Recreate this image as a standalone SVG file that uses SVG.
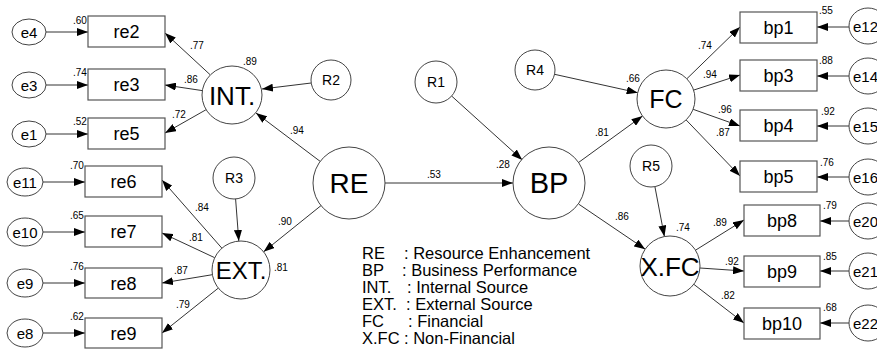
<svg xmlns="http://www.w3.org/2000/svg" width="877" height="351" viewBox="0 0 877 351">
<style>
text{font-family:"Liberation Sans",Arial,sans-serif;fill:#000}
.c{fill:#fff;stroke:#444;stroke-width:1}
.b{fill:#fff;stroke:#555;stroke-width:1.2}
.lat{font-size:27px;text-anchor:middle}
.box{font-size:18px;text-anchor:middle}
.err{font-size:15px;text-anchor:middle}
.rr{font-size:14px;text-anchor:middle}
.n{font-size:10px}
.leg{font-size:16.5px}
.ln{stroke:#333;stroke-width:1;fill:none;marker-end:url(#ah)}
</style>
<defs>
<marker id="ah" markerUnits="userSpaceOnUse" markerWidth="11" markerHeight="8" refX="11" refY="4" orient="auto">
<path d="M0,0 L11,4 L0,8 z" fill="#000"/>
</marker>
</defs>
<rect width="877" height="351" fill="#fff"/>

<g id="connectors">
<line class="ln" x1="46" y1="32" x2="88" y2="32"/>
<line class="ln" x1="46" y1="85" x2="88" y2="85"/>
<line class="ln" x1="46" y1="134" x2="88" y2="134"/>
<line class="ln" x1="43" y1="182" x2="85" y2="182"/>
<line class="ln" x1="43" y1="232" x2="85" y2="232"/>
<line class="ln" x1="43" y1="283" x2="85" y2="283"/>
<line class="ln" x1="43" y1="333" x2="85" y2="333"/>
<line class="ln" x1="210" y1="74.6" x2="165" y2="33"/>
<line class="ln" x1="202.3" y1="90.6" x2="165" y2="85"/>
<line class="ln" x1="205.9" y1="109.8" x2="165" y2="133"/>
<line class="ln" x1="311.2" y1="83" x2="262" y2="89"/>
<line class="ln" x1="320.2" y1="161.4" x2="256" y2="113"/>
<line class="ln" x1="321" y1="205.6" x2="263.6" y2="251.8"/>
<line class="ln" x1="235.6" y1="199" x2="238.8" y2="241"/>
<line class="ln" x1="221.9" y1="248.2" x2="162" y2="180"/>
<line class="ln" x1="214.7" y1="257.7" x2="162" y2="233"/>
<line class="ln" x1="212.4" y1="274.7" x2="162" y2="283"/>
<line class="ln" x1="218.3" y1="288.1" x2="162" y2="333"/>
<line class="ln" x1="385" y1="183" x2="513" y2="183"/>
<line class="ln" x1="451.6" y1="96" x2="522.3" y2="159.9"/>
<line class="ln" x1="578.1" y1="162.8" x2="642.5" y2="116"/>
<line class="ln" x1="578.8" y1="204.2" x2="645.2" y2="249.2"/>
<line class="ln" x1="554.5" y1="74.3" x2="637.7" y2="92.7"/>
<line class="ln" x1="654.9" y1="186.6" x2="664.4" y2="236.5"/>
<line class="ln" x1="686.8" y1="78.8" x2="740" y2="27"/>
<line class="ln" x1="693.6" y1="90.1" x2="740" y2="75"/>
<line class="ln" x1="693.1" y1="109.3" x2="740" y2="126"/>
<line class="ln" x1="686.1" y1="119.9" x2="740" y2="176"/>
<line class="ln" x1="695.5" y1="250.2" x2="744" y2="220"/>
<line class="ln" x1="700" y1="268" x2="744" y2="271"/>
<line class="ln" x1="693.8" y1="284.3" x2="744" y2="323"/>
<line class="ln" x1="849" y1="27" x2="817" y2="27"/>
<line class="ln" x1="849" y1="76" x2="817" y2="76"/>
<line class="ln" x1="849" y1="126" x2="817" y2="126"/>
<line class="ln" x1="849" y1="177" x2="817" y2="177"/>
<line class="ln" x1="849" y1="221" x2="820" y2="221"/>
<line class="ln" x1="849" y1="271" x2="820" y2="271"/>
<line class="ln" x1="849" y1="323" x2="820" y2="323"/>
</g>

<g id="coef" class="n">
<text x="190" y="49">.77</text>
<text x="184" y="83">.86</text>
<text x="172" y="118">.72</text>
<text x="243" y="65">.89</text>
<text x="290" y="134">.94</text>
<text x="278" y="225">.90</text>
<text x="274" y="271">.81</text>
<text x="195" y="211">.84</text>
<text x="189" y="241">.81</text>
<text x="174" y="274">.87</text>
<text x="176" y="308">.79</text>
<text x="427" y="178">.53</text>
<text x="496" y="168">.28</text>
<text x="595" y="136">.81</text>
<text x="626" y="82">.66</text>
<text x="615" y="220">.86</text>
<text x="676" y="231">.74</text>
<text x="698" y="49">.74</text>
<text x="703" y="78">.94</text>
<text x="718" y="113">.96</text>
<text x="716" y="136">.87</text>
<text x="713" y="226">.89</text>
<text x="725" y="265">.92</text>
<text x="721" y="299">.82</text>
</g>

<g id="e4"><ellipse class="c" cx="29" cy="32" rx="17" ry="13"/><text class="err" x="29" y="37.5">e4</text></g>
<g id="e3"><ellipse class="c" cx="29" cy="85" rx="17" ry="13"/><text class="err" x="29" y="90.5">e3</text></g>
<g id="e1"><ellipse class="c" cx="29" cy="134" rx="17" ry="13"/><text class="err" x="29" y="139.5">e1</text></g>
<g id="e11"><ellipse class="c" cx="25" cy="182" rx="18" ry="14"/><text class="err" x="25" y="187.5">e11</text></g>
<g id="e10"><ellipse class="c" cx="25" cy="232" rx="18" ry="14"/><text class="err" x="25" y="237.5">e10</text></g>
<g id="e9"><ellipse class="c" cx="25" cy="283" rx="18" ry="14"/><text class="err" x="25" y="288.5">e9</text></g>
<g id="e8"><ellipse class="c" cx="25" cy="333" rx="18" ry="14"/><text class="err" x="25" y="338.5">e8</text></g>

<g id="re2"><rect class="b" x="88" y="16" width="77" height="31"/><text class="box" x="126.5" y="38">re2</text><text class="n" x="73" y="24">.60</text></g>
<g id="re3"><rect class="b" x="88" y="69" width="77" height="31"/><text class="box" x="126.5" y="91">re3</text><text class="n" x="73" y="76">.74</text></g>
<g id="re5"><rect class="b" x="88" y="118" width="77" height="31"/><text class="box" x="126.5" y="140">re5</text><text class="n" x="73" y="125">.52</text></g>
<g id="re6"><rect class="b" x="85" y="166" width="77" height="31"/><text class="box" x="123.5" y="188">re6</text><text class="n" x="70" y="169">.70</text></g>
<g id="re7"><rect class="b" x="85" y="216" width="77" height="31"/><text class="box" x="123.5" y="238">re7</text><text class="n" x="70" y="219">.65</text></g>
<g id="re8"><rect class="b" x="85" y="268" width="77" height="30"/><text class="box" x="123.5" y="289.5">re8</text><text class="n" x="70" y="270">.76</text></g>
<g id="re9"><rect class="b" x="85" y="318" width="77" height="30"/><text class="box" x="123.5" y="339.5">re9</text><text class="n" x="70" y="320">.62</text></g>

<g id="INT"><ellipse class="c" cx="232" cy="95" rx="30" ry="29"/><text class="lat" x="232" y="104.5" style="font-size:26px">INT.</text></g>
<g id="R2"><circle class="c" cx="331" cy="80" r="20"/><text class="rr" x="331" y="85">R2</text></g>
<g id="EXT"><circle class="c" cx="241" cy="270" r="29"/><text class="lat" x="241" y="279" style="font-size:24px">EXT.</text></g>
<g id="R3"><circle class="c" cx="234" cy="178" r="21"/><text class="rr" x="234" y="183">R3</text></g>
<g id="RE"><circle class="c" cx="349" cy="183" r="36"/><text class="lat" x="349" y="193" style="font-size:28px">RE</text></g>
<g id="BP"><circle class="c" cx="549" cy="183" r="36"/><text class="lat" x="549" y="193" style="font-size:29px">BP</text></g>
<g id="R1"><circle class="c" cx="436" cy="82" r="21"/><text class="rr" x="436" y="87">R1</text></g>
<g id="R4"><circle class="c" cx="535" cy="70" r="20"/><text class="rr" x="535" y="75">R4</text></g>
<g id="FC"><circle class="c" cx="666" cy="99" r="29"/><text class="lat" x="666" y="108" style="font-size:25px">FC</text></g>
<g id="R5"><circle class="c" cx="651" cy="166" r="21"/><text class="rr" x="651" y="171">R5</text></g>
<g id="XFC"><circle class="c" cx="670" cy="266" r="30"/><text class="lat" x="670" y="275.5" style="font-size:26px">X.FC</text></g>

<g id="bp1"><rect class="b" x="740" y="12" width="77" height="31"/><text class="box" x="778.5" y="34">bp1</text><text class="n" x="819" y="14">.55</text></g>
<g id="bp3"><rect class="b" x="740" y="60" width="77" height="31"/><text class="box" x="778.5" y="82">bp3</text><text class="n" x="819" y="64">.88</text></g>
<g id="bp4"><rect class="b" x="740" y="110" width="77" height="31"/><text class="box" x="778.5" y="132">bp4</text><text class="n" x="821" y="115">.92</text></g>
<g id="bp5"><rect class="b" x="740" y="161" width="77" height="31"/><text class="box" x="778.5" y="183">bp5</text><text class="n" x="820" y="166">.76</text></g>
<g id="bp8"><rect class="b" x="744" y="205" width="76" height="31"/><text class="box" x="782" y="227">bp8</text><text class="n" x="823" y="209">.79</text></g>
<g id="bp9"><rect class="b" x="744" y="256" width="76" height="31"/><text class="box" x="782" y="278">bp9</text><text class="n" x="823" y="260">.85</text></g>
<g id="bp10"><rect class="b" x="744" y="308" width="76" height="31"/><text class="box" x="782" y="330">bp10</text><text class="n" x="823" y="311">.68</text></g>

<g id="e12"><ellipse class="c" cx="868" cy="26" rx="19" ry="18"/><text class="err" x="853" y="31.5" style="text-anchor:start">e12</text></g>
<g id="e14"><ellipse class="c" cx="868" cy="76" rx="19" ry="18"/><text class="err" x="853" y="81.5" style="text-anchor:start">e14</text></g>
<g id="e15"><ellipse class="c" cx="868" cy="126" rx="19" ry="18"/><text class="err" x="853" y="131.5" style="text-anchor:start">e15</text></g>
<g id="e16"><ellipse class="c" cx="868" cy="177" rx="19" ry="18"/><text class="err" x="853" y="182.5" style="text-anchor:start">e16</text></g>
<g id="e20"><ellipse class="c" cx="868" cy="221" rx="19" ry="18"/><text class="err" x="853" y="226.5" style="text-anchor:start">e20</text></g>
<g id="e21"><ellipse class="c" cx="868" cy="271" rx="19" ry="18"/><text class="err" x="853" y="276.5" style="text-anchor:start">e21</text></g>
<g id="e22"><ellipse class="c" cx="868" cy="323" rx="19" ry="18"/><text class="err" x="853" y="328.5" style="text-anchor:start">e22</text></g>

<g id="legend" class="leg">
<text x="362" y="259">RE</text><text x="404" y="259">: Resource Enhancement</text>
<text x="362" y="276">BP</text><text x="402" y="276">: Business Performance</text>
<text x="362" y="293">INT.</text><text x="407" y="293">: Internal Source</text>
<text x="362" y="310">EXT.</text><text x="406" y="310">: External Source</text>
<text x="362" y="327">FC</text><text x="408" y="327">: Financial</text>
<text x="362" y="344">X.FC</text><text x="404" y="344">: Non-Financial</text>
</g>
</svg>
